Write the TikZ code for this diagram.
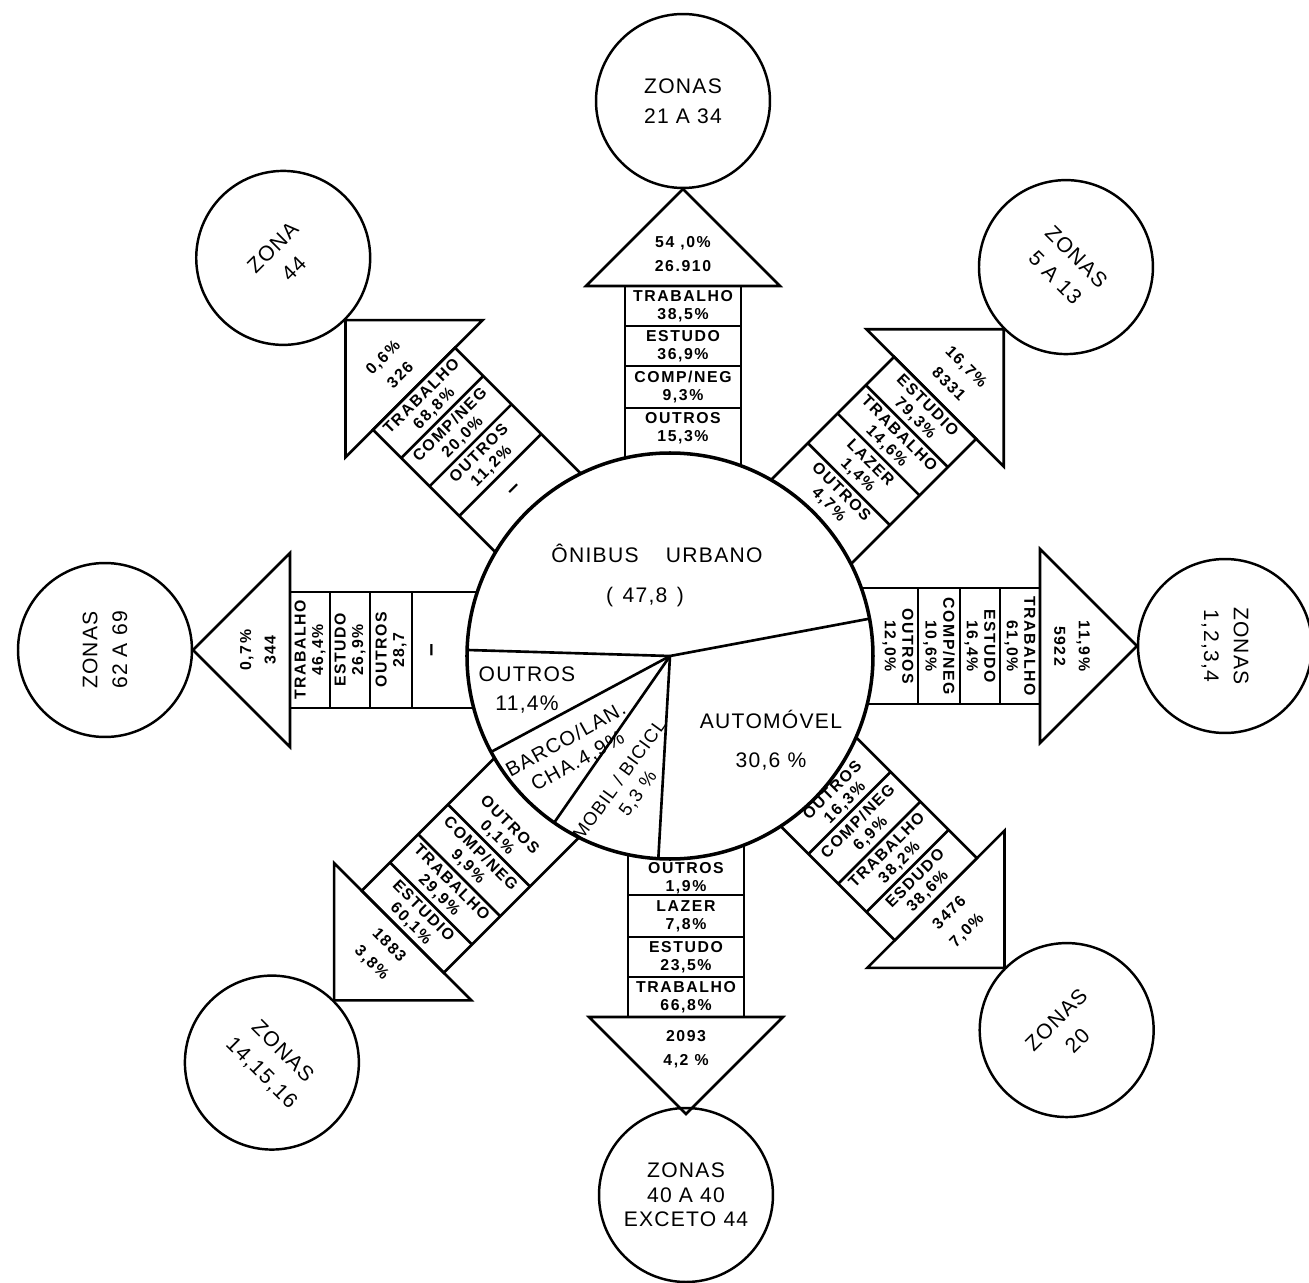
\documentclass[tikz,border=0pt]{standalone}
\usepackage{fontspec}
\setmainfont{Liberation Sans}
\newfontfamily\widefont[LetterSpace=10]{Liberation Sans}
\newfontfamily\semiwidefont[LetterSpace=6]{Liberation Sans}
\newcommand{\cellfont}{\widefont\bfseries\fontsize{9}{10}\selectfont}
\newcommand{\sharefont}{\widefont\bfseries\fontsize{9}{14}\selectfont}
\newcommand{\zonefont}{\semiwidefont\fontsize{12}{17}\selectfont}
\newcommand{\piefont}{\semiwidefont\fontsize{12}{17}\selectfont}
\pgfdeclarelayer{back}
\pgfsetlayers{back,main}
\tikzset{
	ink/.style = {draw=black, line width=1.5pt},
	pieedge/.style = {draw=black, line width=2pt},
	zone/.style = {circle, draw=black, line width=1.4pt, minimum size=3.48cm, inner sep=0, align=center, font=\zonefont},
	cell/.style = {align=center, inner sep=0, font=\cellfont},
	share/.style = {align=center, inner sep=0, font=\sharefont},
	gap/.style = {inner sep=0, font=\bfseries\fontsize{13}{13}\selectfont},
	slice/.style = {align=center, inner sep=0, font=\piefont},
	flow/.pic = {
		\begin{pgfonlayer}{back}
			\draw[ink] (150,-58) rectangle (370,58);
			\foreach \d in {248,290,330} \draw[ink] (\d,-58) -- (\d,58);
			\draw[ink] (370,-97) -- (467,0) -- (370,97) -- cycle;
		\end{pgfonlayer}
	}
}

\begin{document}
\begin{tikzpicture}[x=0.02cm, y=0.02cm]
	\useasboundingbox (-670,-626) rectangle (639,656);
	\coordinate (c) at (0,0);
	
	\begin{scope}[rotate=90, shift={(0,-13)}]
		\pic[transform shape] {flow};
		\node [cell] (n1) at (350,0) {TRABALHO\\38,5\%};
		\node [cell] (n2) at (310,0) {ESTUDO\\36,9\%};
		\node [cell] (n3) at (269,0) {COMP/NEG\\9,3\%};
		\node [cell] (n4) at (228,0) {OUTROS\\15,3\%};
		\node [share] (nt) at (402,0) {54 ,0\%\\26.910};
		\node [zone] (nz) at (555,0) {ZONAS\\21 A 34};
	\end{scope}
	\begin{scope}[rotate=45, shift={(0,-5)}]
		\pic[transform shape] {flow};
		\node [cell, rotate=-45] (ne1) at (350,0) {ESTUDIO\\79,3\%};
		\node [cell, rotate=-45] (ne2) at (310,0) {TRABALHO\\14,6\%};
		\node [cell, rotate=-45] (ne3) at (269,0) {LAZER\\1,4\%};
		\node [cell, rotate=-45] (ne4) at (228,0) {OUTROS\\4,7\%};
		\node [share, rotate=-45] (net) at (402,0) {16,7\%\\8331};
		\node [zone, rotate=-45] (nez) at (555,0) {ZONAS\\5 A 13};
	\end{scope}
	\begin{scope}[shift={(0,10)}]
		\pic[transform shape] {flow};
		\node [cell, rotate=-90] (e1) at (350,0) {TRABALHO\\61,0\%};
		\node [cell, rotate=-90] (e2) at (310,0) {ESTUDO\\16,4\%};
		\node [cell, rotate=-90] (e3) at (269,0) {COMP/NEG\\10,6\%};
		\node [cell, rotate=-90] (e4) at (228,0) {OUTROS\\12,0\%};
		\node [share, rotate=-90] (et) at (402,0) {11,9\%\\5922};
		\node [zone, rotate=-90] (ez) at (555,0) {ZONAS\\1,2,3,4};
	\end{scope}
	\begin{scope}[rotate=-45, shift={(-10,16)}]
		\pic[transform shape] {flow};
		\node [cell, rotate=45] (se1) at (350,0) {ESDUDO\\38,6\%};
		\node [cell, rotate=45] (se2) at (310,0) {TRABALHO\\38,2\%};
		\node [cell, rotate=45] (se3) at (269,0) {COMP/NEG\\6,9\%};
		\node [cell, rotate=45] (se4) at (229,4) {OUTROS\\16,3\%};
		\node [share, rotate=45] (set) at (402,0) {3476\\7,0\%};
		\node [zone, rotate=45] (sez) at (555,0) {ZONAS\\20};
	\end{scope}
	\begin{scope}[rotate=-90, shift={(-9,16)}]
		\pic[transform shape] {flow};
		\node [cell] (s1) at (350,0) {TRABALHO\\66,8\%};
		\node [cell] (s2) at (310,0) {ESTUDO\\23,5\%};
		\node [cell] (s3) at (269,0) {LAZER\\7,8\%};
		\node [cell] (s4) at (231,0) {OUTROS\\1,9\%};
		\node [share] (st) at (402,0) {2093\\4,2 \%};
		\node [zone, font=\semiwidefont\fontsize{12}{14}\selectfont] (sz) at (548,0) {ZONAS\\40 A 40\\EXCETO 44};
	\end{scope}
	\begin{scope}[rotate=-135, shift={(14,6)}]
		\pic[transform shape] {flow};
		\node [cell, rotate=-45] (sw1) at (350,0) {ESTUDIO\\60,1\%};
		\node [cell, rotate=-45] (sw2) at (310,0) {TRABALHO\\29,9\%};
		\node [cell, rotate=-45] (sw3) at (269,0) {COMP/NEG\\9,9\%};
		\node [cell, rotate=-45] (sw4) at (228,0) {OUTROS\\0,1\%};
		\node [share, rotate=-45] (swt) at (402,0) {1883\\3,8\%};
		\node [zone, rotate=-45] (swz) at (555,0) {ZONAS\\14,15,16};
	\end{scope}
	\begin{scope}[rotate=180, shift={(10,-6)}]
		\pic[transform shape] {flow};
		\node [cell, rotate=90] (w1) at (350,0) {TRABALHO\\46,4\%};
		\node [cell, rotate=90] (w2) at (310,0) {ESTUDO\\26,9\%};
		\node [cell, rotate=90] (w3) at (269,0) {OUTROS\\28,7};
		\node [gap, rotate=90] (w4) at (226,0) {--};
		\node [share, rotate=90] (wt) at (402,0) {0,7\%\\344};
		\node [zone, rotate=90] (wz) at (555,0) {ZONAS\\62 A 69};
	\end{scope}
	\begin{scope}[rotate=135, shift={(0,-8)}]
		\pic[transform shape] {flow};
		\node [cell, rotate=45] (nw1) at (350,0) {TRABALHO\\68,8\%};
		\node [cell, rotate=45] (nw2) at (310,0) {COMP/NEG\\20,0\%};
		\node [cell, rotate=45] (nw3) at (269,0) {OUTROS\\11,2\%};
		\node [gap, rotate=45] (nw4) at (226,0) {--};
		\node [share, rotate=45] (nwt) at (402,0) {0,6\%\\326};
		\node [zone, rotate=45] (nwz) at (555,0) {ZONA\\44};
	\end{scope}
	
	\begin{pgfonlayer}{back}
		\fill[white] (c) circle (203);
	\end{pgfonlayer}
	\draw[ink] (c) -- (10.6:203);
	\draw[ink] (c) -- (178.3:203);
	\draw[ink] (c) -- (208.2:203);
	\draw[ink] (c) -- (235.2:203);
	\draw[ink] (c) -- (266.7:203);
	\draw[pieedge] (c) circle (203);
	
	\node [slice] (bus) at (-13,103) {ÔNIBUS\hspace{1.3em}URBANO};
	\node [slice] (busp) at (-25,59) {(\hspace{0.45em}47,8\hspace{0.45em})};
	\node [slice] (other) at (-143,-34) {OUTROS\\11,4\%};
	\node [slice, rotate=29, font=\semiwidefont\fontsize{11.5}{14}\selectfont] (boat) at (-98,-95) {BARCO/LAN.\\CHA.4,9\%};
	\node [slice, rotate=54, font=\semiwidefont\fontsize{10.5}{13}\selectfont] (bike) at (-41,-131) {MOBIL / BICICL\\5,3 \%};
	\node [slice, font=\semiwidefont\fontsize{12}{22}\selectfont] (car) at (101,-84) {AUTOMÓVEL\\30,6 \%};
\end{tikzpicture}
\end{document}
